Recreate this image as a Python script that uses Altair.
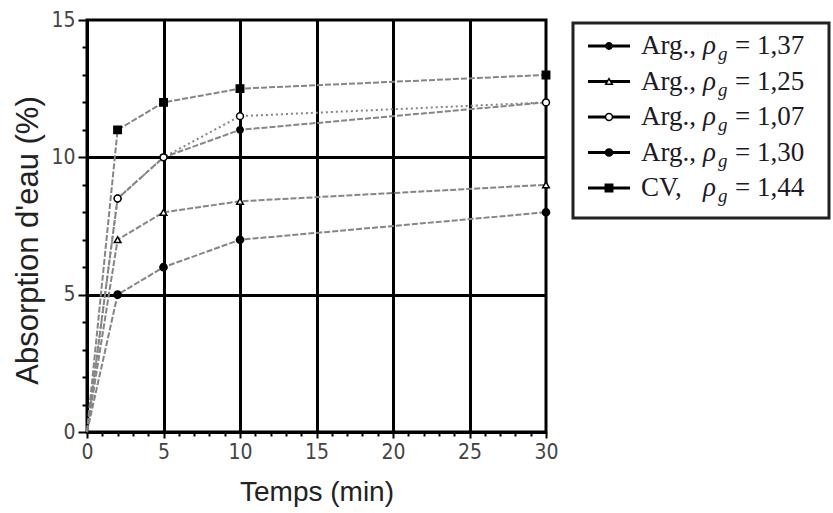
import altair as alt
import pandas as pd

# Immersion time (min) and water absorption (%) for each aggregate
times = [0, 2, 5, 10, 30]
series_names = ["Arg. 1,37", "Arg. 1,25", "Arg. 1,07", "Arg. 1,30", "CV 1,44"]
prefixes = ["Arg.,", "Arg.,", "Arg.,", "Arg.,", "CV,"]
densities = ["1,37", "1,25", "1,07", "1,30", "1,44"]

arg_137 = [0, 8.5, 10, 11, 12]
arg_125 = [0, 7, 8, 8.4, 9]
arg_107 = [0, 8.5, 10, 11.5, 12]
arg_130 = [0, 5, 6, 7, 8]
cv_144 = [0, 11, 12, 12.5, 13]

all_values = [arg_137, arg_125, arg_107, arg_130, cv_144]

rows = []
for name, vals in zip(series_names, all_values):
    for t, v in zip(times, vals):
        rows.append({"series": name, "t": t, "absorption": v})
df = pd.DataFrame(rows)

legend_df = pd.DataFrame({"series": series_names, "prefix": prefixes, "dens": densities})

# marker styles per series
shape_scale = alt.Scale(domain=series_names,
                        range=["circle", "triangle-up", "circle", "circle", "square"])
fill_scale = alt.Scale(domain=series_names,
                       range=["black", "white", "white", "black", "black"])
size_scale = alt.Scale(domain=series_names, range=[40, 55, 45, 55, 55])
dash_scale = alt.Scale(domain=series_names,
                       range=[[6, 2], [6, 2], [2, 3], [6, 2], [6, 2]])

label_font = "Liberation Sans Narrow, DejaVu Sans Condensed, Liberation Sans, sans-serif"
major = "datum.value % 5 === 0"
inner_major_x = "datum.value % 5 === 0 && datum.value > 0 && datum.value < 30"
inner_major_y = "datum.value % 5 === 0 && datum.value > 0 && datum.value < 15"

x_enc = alt.X(
    "t:Q",
    scale=alt.Scale(domain=[0, 30], nice=False),
    axis=alt.Axis(
        values=list(range(0, 31)),
        tickCount=100,
        format="d",
        labelExpr=f"{major} ? datum.label : ''",
        labelOverlap=False,
        labelFlush=False,
        labelFont=label_font,
        labelFontSize=21,
        labelColor="#444444",
        labelPadding=3,
        tickSize={"condition": {"test": major, "value": 6}, "value": 4},
        tickWidth=2,
        tickColor="black",
        domainColor="black",
        domainWidth=3,
        grid=True,
        gridColor="black",
        gridWidth=3,
        gridOpacity={"condition": {"test": inner_major_x, "value": 1}, "value": 0},
        title="Temps (min)",
        titleFont="Liberation Sans",
        titleFontSize=28,
        titleFontWeight="normal",
        titleColor="#222222",
        titleBaseline="alphabetic",
        titleY=68,
    ),
)

y_enc = alt.Y(
    "absorption:Q",
    scale=alt.Scale(domain=[0, 15], nice=False),
    axis=alt.Axis(
        values=list(range(0, 16)),
        tickCount=100,
        format="d",
        labelExpr=f"{major} ? datum.label : ''",
        labelOverlap=False,
        labelFlush=False,
        labelFont=label_font,
        labelFontSize=21,
        labelColor="#444444",
        labelPadding=3,
        tickSize={"condition": {"test": major, "value": 9}, "value": 5},
        tickWidth=2,
        tickColor="black",
        domainColor="black",
        domainWidth=3,
        grid=True,
        gridColor="black",
        gridWidth=3,
        gridOpacity={"condition": {"test": inner_major_y, "value": 1}, "value": 0},
        title="Absorption d'eau (%)",
        titleFont="Liberation Sans",
        titleFontSize=31,
        titleFontWeight="normal",
        titleColor="#222222",
        titleBaseline="alphabetic",
        titleX=-50,
        titleY=220,
    ),
)

base = alt.Chart(df)

lines = base.mark_line(strokeWidth=2, color="#858585").encode(
    x=x_enc,
    y=y_enc,
    detail="series:N",
    strokeDash=alt.StrokeDash("series:N", scale=dash_scale, legend=None),
    order="t:Q",
)

points = base.transform_filter("datum.t > 0").mark_point(
    filled=True, stroke="black", strokeWidth=1.5, opacity=1
).encode(
    x="t:Q",
    y="absorption:Q",
    shape=alt.Shape("series:N", scale=shape_scale, legend=None),
    fill=alt.Fill("series:N", scale=fill_scale, legend=None),
    size=alt.Size("series:N", scale=size_scale, legend=None),
)

main = alt.layer(lines, points)

# hand-built legend to the right of the plot: line sample with marker,
# then "Arg., ρ_g = value"
LEG_X = 486  # left edge of the legend box, relative to the plot origin
ly = alt.Y("series:N", sort=series_names, axis=None,
           scale=alt.Scale(type="point", range=[26, 168], padding=0))
lbase = alt.Chart(legend_df)
serif = "Liberation Serif, DejaVu Serif, serif"
text_color = "#1d1a26"

box = alt.Chart(pd.DataFrame({"box": [0]})).mark_rect(
    fill="white", stroke="#222222", strokeWidth=3
).encode(
    x=alt.value(LEG_X), x2=alt.value(LEG_X + 256),
    y=alt.value(3), y2=alt.value(198),
)
sample_line = lbase.mark_rule(color="black", strokeWidth=3).encode(
    x=alt.value(LEG_X + 15), x2=alt.value(LEG_X + 57), y=ly)
sample_mark = lbase.mark_point(filled=True, stroke="black", strokeWidth=1.5, opacity=1).encode(
    x=alt.value(LEG_X + 36), y=ly,
    shape=alt.Shape("series:N", scale=shape_scale, legend=None),
    fill=alt.Fill("series:N", scale=fill_scale, legend=None),
    size=alt.Size("series:N", scale=size_scale, legend=None),
)
txt_kw = dict(align="left", baseline="alphabetic", font=serif, color=text_color)
t_prefix = lbase.mark_text(fontSize=27, dy=8, **txt_kw).encode(
    x=alt.value(LEG_X + 68), y=ly, text="prefix:N")
t_rho = lbase.mark_text(fontSize=27, dy=8, fontStyle="italic", **txt_kw).encode(
    x=alt.value(LEG_X + 130), y=ly, text=alt.value("ρ"))
t_sub = lbase.mark_text(fontSize=19, dy=14, fontStyle="italic", **txt_kw).encode(
    x=alt.value(LEG_X + 145), y=ly, text=alt.value("g"))
t_eq = lbase.mark_text(fontSize=27, dy=8, **txt_kw).encode(
    x=alt.value(LEG_X + 162), y=ly, text=alt.value("="))
t_val = lbase.mark_text(fontSize=27, dy=8, **txt_kw).encode(
    x=alt.value(LEG_X + 184), y=ly, text="dens:N")

legend_layer = alt.layer(box, sample_line, sample_mark, t_prefix, t_rho, t_sub, t_eq, t_val)

chart = alt.layer(main, legend_layer).resolve_scale(y="independent").properties(
    width=459,
    height=412,
    autosize=alt.AutoSizeParams(type="none"),
    padding={"left": 87, "top": 20, "right": 287, "bottom": 81},
    background="white",
).configure_view(stroke="black", strokeWidth=3)

chart.save("out.html", embed_options={"renderer": "svg", "actions": False})
